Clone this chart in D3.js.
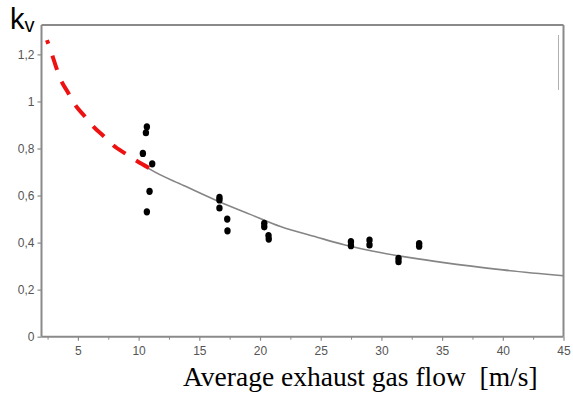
<!DOCTYPE html>
<html>
<head>
<meta charset="utf-8">
<script src="https://cdn.jsdelivr.net/npm/d3@7"></script>
<style>
  html, body { margin: 0; padding: 0; background: #fff; }
  svg { display: block; }
</style>
</head>
<body>
<svg id="chart" width="573" height="394"></svg>
<script>
// ---- data ----
const xMajorTicks = [5, 10, 15, 20, 25, 30, 35, 40, 45];
const xMinorTicks = [2.5, 7.5, 12.5, 17.5, 22.5, 27.5, 32.5, 37.5, 42.5];
const yTicks = [0, 0.2, 0.4, 0.6, 0.8, 1, 1.2];
const yTickLabels = ["0", "0,2", "0,4", "0,6", "0,8", "1", "1,2"];

const pointX = [10.68, 10.60, 10.35, 11.12, 10.90, 10.68, 16.66, 16.66, 16.66, 17.30, 17.32,
                20.35, 20.35, 20.70, 20.72, 27.49, 27.49, 29.02, 29.02, 31.41, 31.41, 33.11, 33.11];
const pointY = [0.892, 0.867, 0.779, 0.735, 0.618, 0.531, 0.592, 0.581, 0.547, 0.500, 0.450,
                0.482, 0.467, 0.430, 0.415, 0.404, 0.387, 0.411, 0.390, 0.333, 0.319, 0.396, 0.385];

const fitX = [9.9, 10.96, 13.70, 16.45, 19.19, 21.69, 24.69, 27.0, 30.0, 32.5, 35, 40, 45];
const fitY = [0.748, 0.711, 0.643, 0.578, 0.520, 0.468, 0.423, 0.390, 0.357, 0.335, 0.316, 0.284, 0.259];

const extrapX = [2.45, 2.86, 3.21, 3.60, 4.23, 4.72, 5.54, 6.24, 7.17, 7.88, 8.98, 9.86, 10.90];
const extrapY = [1.261, 1.201, 1.145, 1.091, 1.034, 0.989, 0.938, 0.895, 0.850, 0.815, 0.776, 0.747, 0.716];

const xTitle = "Average exhaust gas flow  [m/s]";

// ---- layout ----
const svg = d3.select("#chart");
const mLeft = 41.5, mRight = 563.5, mTop = 25, mBottom = 336.7;
const x = d3.scaleLinear().domain([2.0, 45]).range([mLeft, mRight]);
const y = d3.scaleLinear().domain([0, 1.325]).range([mBottom, mTop]);
const axisGray = "#8a8a8a";
const labelGray = "#555";

// frame top / right
svg.append("line").attr("x1", mLeft).attr("x2", mRight).attr("y1", mTop).attr("y2", mTop)
  .attr("stroke", axisGray).attr("stroke-width", 2);
svg.append("line").attr("x1", mRight).attr("x2", mRight).attr("y1", mTop).attr("y2", mBottom)
  .attr("stroke", axisGray).attr("stroke-width", 2);
// small stray vertical mark near top right
svg.append("line").attr("x1", mRight - 5).attr("x2", mRight - 5).attr("y1", 35).attr("y2", 90)
  .attr("stroke", "#b0b0b0").attr("stroke-width", 1);

// x axis
const xAxis = d3.axisBottom(x).tickValues(xMajorTicks).tickSize(4).tickPadding(6)
  .tickFormat(d3.format("d"));
const gx = svg.append("g").attr("transform", `translate(0,${mBottom})`).call(xAxis);
gx.select(".domain").attr("d", `M${mLeft},0H${mRight}`).attr("stroke", axisGray).attr("stroke-width", 2);
gx.selectAll(".tick line").attr("stroke", axisGray).attr("stroke-width", 1.2);
gx.selectAll(".tick text").attr("fill", labelGray).style("font-family", "Liberation Sans, Arial, sans-serif")
  .style("font-size", "12px");
const gxm = svg.append("g").attr("transform", `translate(0,${mBottom})`)
  .call(d3.axisBottom(x).tickValues(xMinorTicks).tickSize(3).tickFormat(""));
gxm.select(".domain").remove();
gxm.selectAll(".tick line").attr("stroke", axisGray).attr("stroke-width", 1);

// y axis
const yAxis = d3.axisLeft(y).tickValues(yTicks).tickSize(4).tickPadding(3)
  .tickFormat((d, i) => yTickLabels[i]);
const gy = svg.append("g").attr("transform", `translate(${mLeft},0)`).call(yAxis);
gy.select(".domain").attr("d", `M0,${mTop}V${mBottom}`).attr("stroke", axisGray).attr("stroke-width", 2);
gy.selectAll(".tick line").attr("stroke", axisGray).attr("stroke-width", 1.2);
gy.selectAll(".tick text").attr("fill", labelGray).style("font-family", "Liberation Sans, Arial, sans-serif")
  .style("font-size", "12px");

// fitted curve (gray)
const fitData = fitX.map((v, i) => [v, fitY[i]]);
svg.append("path").datum(fitData)
  .attr("d", d3.line().x(d => x(d[0])).y(d => y(d[1])).curve(d3.curveMonotoneX))
  .attr("fill", "none").attr("stroke", "#858585").attr("stroke-width", 1.6);

// extrapolation (red dashed)
const extData = extrapX.map((v, i) => [v, extrapY[i]]);
svg.append("path").datum(extData)
  .attr("d", d3.line().x(d => x(d[0])).y(d => y(d[1])).curve(d3.curveMonotoneX))
  .attr("fill", "none").attr("stroke", "#ee1111").attr("stroke-width", 4)
  .attr("stroke-dasharray", "15,12.5").attr("stroke-dashoffset", 11);

// points
svg.append("g").selectAll("ellipse").data(pointX.map((v, i) => [v, pointY[i]])).join("ellipse")
  .attr("cx", d => x(d[0])).attr("cy", d => y(d[1]))
  .attr("rx", 3.2).attr("ry", 3.6).attr("fill", "#000");

// y label k_v
const kv = svg.append("text").attr("x", 10).attr("y", 29)
  .style("font-family", "Liberation Sans, Arial, sans-serif").attr("fill", "#000");
kv.append("tspan").style("font-size", "29px").text("k");
kv.append("tspan").style("font-size", "20px").attr("dy", 3).text("v");

// x title
svg.append("text").attr("x", 183).attr("y", 386)
  .style("font-family", "Liberation Serif, Times New Roman, serif").style("font-size", "27.5px")
  .attr("fill", "#000").style("white-space", "pre").attr("xml:space", "preserve").text(xTitle);
</script>
</body>
</html>
